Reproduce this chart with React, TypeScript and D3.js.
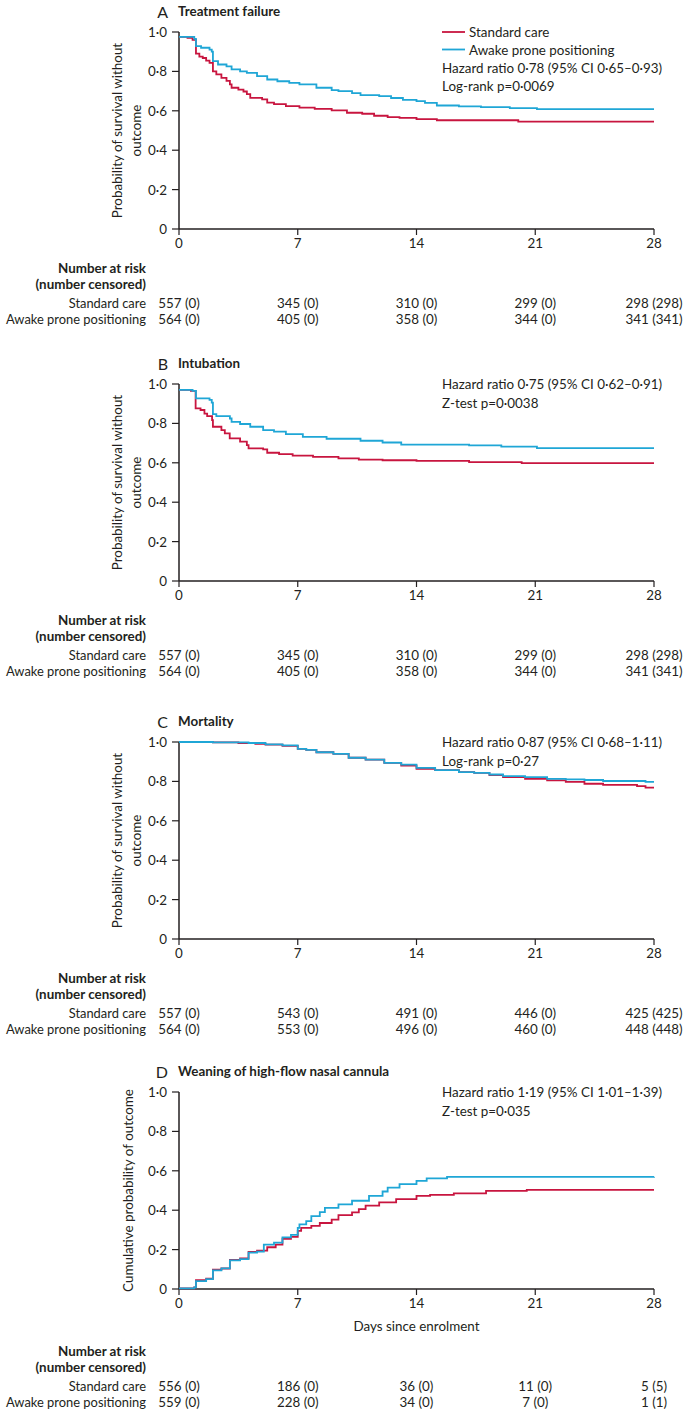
import React from "react";
import * as d3 from "d3";

type Pt = [number, number];

// ---------- data ----------
const dayTicks = [0, 7, 14, 21, 28];
const probTicks = [0, 0.2, 0.4, 0.6, 0.8, 1.0];
const groupNames = ["Standard care", "Awake prone positioning"];

const aStandard: Pt[] = [
  [0, 0.975], [0.5, 0.97], [0.8, 0.96], [1.0, 0.89], [1.2, 0.875], [1.4, 0.868], [1.6, 0.855],
  [1.8, 0.843], [2.0, 0.8], [2.2, 0.785], [2.5, 0.767], [2.8, 0.752], [3.0, 0.734], [3.1, 0.717],
  [3.5, 0.707], [3.8, 0.698], [4.0, 0.685], [4.2, 0.666], [4.9, 0.658], [5.2, 0.641], [5.6, 0.634],
  [6.3, 0.624], [7.1, 0.616], [8.0, 0.61], [9.0, 0.602], [9.9, 0.59], [10.8, 0.585], [11.5, 0.575],
  [12.3, 0.568], [13.0, 0.564], [14.0, 0.558], [15.2, 0.552], [20.0, 0.545], [28, 0.545],
];
const aProne: Pt[] = [
  [0, 0.975], [0.9, 0.965], [1.0, 0.928], [1.3, 0.92], [1.8, 0.911], [1.93, 0.9], [2.0, 0.852],
  [2.3, 0.835], [2.8, 0.826], [3.1, 0.81], [3.6, 0.8], [4.0, 0.793], [4.6, 0.776], [5.2, 0.759],
  [5.8, 0.75], [6.5, 0.742], [7.1, 0.734], [8.1, 0.717], [9.0, 0.705], [9.4, 0.7], [10.2, 0.69],
  [10.7, 0.68], [11.8, 0.675], [12.5, 0.665], [13.2, 0.655], [14.0, 0.649], [14.5, 0.64],
  [15.2, 0.627], [16.5, 0.622], [17.8, 0.619], [19.5, 0.614], [21.1, 0.608], [28, 0.608],
];
const bStandard: Pt[] = [
  [0, 0.97], [0.7, 0.965], [0.98, 0.876], [1.27, 0.868], [1.5, 0.85], [1.66, 0.837], [1.95, 0.817],
  [2.0, 0.783], [2.5, 0.766], [2.7, 0.749], [2.99, 0.724], [3.6, 0.707], [4.0, 0.69], [4.1, 0.673],
  [4.96, 0.668], [5.2, 0.651], [5.9, 0.644], [6.7, 0.636], [7.9, 0.63], [9.4, 0.622], [10.6, 0.616],
  [12.0, 0.613], [14.0, 0.61], [17.1, 0.603], [20.2, 0.598], [28, 0.598],
];
const bProne: Pt[] = [
  [0, 0.97], [0.8, 0.965], [1.0, 0.927], [1.8, 0.919], [1.93, 0.905], [2.0, 0.847], [2.2, 0.837],
  [3.0, 0.825], [3.1, 0.808], [3.6, 0.797], [4.2, 0.783], [4.96, 0.766], [5.6, 0.758], [6.3, 0.746],
  [7.3, 0.732], [8.7, 0.722], [10.7, 0.712], [12.0, 0.703], [13.1, 0.692], [17.1, 0.688],
  [19.0, 0.682], [21.1, 0.675], [28, 0.675],
];
const cStandard: Pt[] = [
  [0, 1.0], [2.0, 0.998], [3.5, 0.995], [4.5, 0.99], [5.1, 0.987], [6.1, 0.98], [7.0, 0.965],
  [7.5, 0.96], [8.1, 0.948], [9.1, 0.94], [10.0, 0.92], [11.0, 0.911], [12.1, 0.894], [13.1, 0.88],
  [14.0, 0.864], [15.1, 0.857], [16.5, 0.847], [17.4, 0.843], [18.3, 0.832], [19.1, 0.822],
  [20.4, 0.813], [21.7, 0.805], [22.8, 0.798], [23.9, 0.788], [25.0, 0.782], [27.0, 0.776],
  [27.5, 0.768], [28, 0.768],
];
const cProne: Pt[] = [
  [0, 1.0], [2.0, 0.998], [4.1, 0.995], [5.1, 0.988], [6.1, 0.983], [7.0, 0.965], [7.5, 0.96],
  [8.1, 0.948], [9.1, 0.94], [10.0, 0.92], [11.0, 0.911], [12.1, 0.894], [13.1, 0.885], [14.0, 0.869],
  [15.1, 0.857], [16.5, 0.847], [17.4, 0.843], [18.3, 0.835], [19.1, 0.827], [20.4, 0.822],
  [21.7, 0.813], [22.8, 0.81], [23.9, 0.807], [25.0, 0.802], [27.5, 0.798], [28, 0.798],
];
const dStandard: Pt[] = [
  [0, 0.003], [0.9, 0.008], [1.0, 0.045], [1.6, 0.052], [2.0, 0.098], [2.5, 0.104], [3.0, 0.148],
  [3.6, 0.155], [4.1, 0.188], [4.6, 0.195], [5.2, 0.212], [5.7, 0.225], [6.1, 0.255], [6.6, 0.265],
  [7.0, 0.295], [7.2, 0.31], [7.8, 0.32], [8.3, 0.335], [9.0, 0.352], [9.4, 0.375], [10.2, 0.389],
  [10.6, 0.405], [11.0, 0.423], [11.8, 0.44], [12.8, 0.456], [14.0, 0.473], [14.8, 0.478],
  [16.2, 0.485], [18.1, 0.498], [20.5, 0.503], [28, 0.503],
];
const dProne: Pt[] = [
  [0, 0.003], [0.9, 0.008], [1.0, 0.04], [1.6, 0.05], [2.0, 0.095], [2.5, 0.105], [3.0, 0.145],
  [3.6, 0.152], [4.1, 0.185], [4.6, 0.19], [5.0, 0.225], [5.6, 0.235], [6.1, 0.262], [6.6, 0.275],
  [7.0, 0.31], [7.1, 0.328], [7.5, 0.345], [7.8, 0.37], [8.3, 0.39], [8.6, 0.412], [9.4, 0.43],
  [10.2, 0.448], [11.2, 0.473], [12.0, 0.495], [12.3, 0.515], [13.0, 0.532], [14.0, 0.549],
  [14.6, 0.562], [15.8, 0.569], [28, 0.57],
];

const riskAStandard = ["557 (0)", "345 (0)", "310 (0)", "299 (0)", "298 (298)"];
const riskAProne = ["564 (0)", "405 (0)", "358 (0)", "344 (0)", "341 (341)"];
const riskCStandard = ["557 (0)", "543 (0)", "491 (0)", "446 (0)", "425 (425)"];
const riskCProne = ["564 (0)", "553 (0)", "496 (0)", "460 (0)", "448 (448)"];
const riskDStandard = ["556 (0)", "186 (0)", "36 (0)", "11 (0)", "5 (5)"];
const riskDProne = ["559 (0)", "228 (0)", "34 (0)", "7 (0)", "1 (1)"];

const panelLetters = ["A", "B", "C", "D"];
const panelTitles = ["Treatment failure", "Intubation", "Mortality", "Weaning of high-flow nasal cannula"];
const statsLines = [
  ["Hazard ratio 0·78 (95% CI 0·65–0·93)", "Log-rank p=0·0069"],
  ["Hazard ratio 0·75 (95% CI 0·62–0·91)", "Z-test p=0·0038"],
  ["Hazard ratio 0·87 (95% CI 0·68–1·11)", "Log-rank p=0·27"],
  ["Hazard ratio 1·19 (95% CI 1·01–1·39)", "Z-test p=0·035"],
];
const yLabelSurvival = ["Probability of survival without", "outcome"];
const yLabelCumulative = ["Cumulative probability of outcome"];
const xAxisLabel = "Days since enrolment";
const riskHeader = ["Number at risk", "(number censored)"];

// ---------- layout ----------
const W = 685;
const H = 1410;
const X0 = 179;
const X1 = 654;
const PLOT_H = 197;
const TOPS = [32, 384, 742, 1092];
const RED = "#c8153f";
const BLUE = "#1fa6d6";
const INK = "#231f20";
const FONT = "Lato, 'Open Sans', sans-serif";
const FS = 13.4;

const fmtProb = (v: number) => (v === 0 ? "0" : v.toFixed(1).replace(".", "·"));

type PanelDef = {
  idx: number;
  standard: Pt[];
  prone: Pt[];
  riskS: string[];
  riskP: string[];
  yLabel: string[];
  legend: boolean;
  xLabel: boolean;
};

const panels: PanelDef[] = [
  { idx: 0, standard: aStandard, prone: aProne, riskS: riskAStandard, riskP: riskAProne, yLabel: yLabelSurvival, legend: true, xLabel: false },
  { idx: 1, standard: bStandard, prone: bProne, riskS: riskAStandard, riskP: riskAProne, yLabel: yLabelSurvival, legend: false, xLabel: false },
  { idx: 2, standard: cStandard, prone: cProne, riskS: riskCStandard, riskP: riskCProne, yLabel: yLabelSurvival, legend: false, xLabel: false },
  { idx: 3, standard: dStandard, prone: dProne, riskS: riskDStandard, riskP: riskDProne, yLabel: yLabelCumulative, legend: false, xLabel: true },
];

const x = d3.scaleLinear().domain([0, 28]).range([X0, X1]);

function Panel({ p }: { p: PanelDef }) {
  const top = TOPS[p.idx];
  const y = d3.scaleLinear().domain([0, 1]).range([top + PLOT_H, top]);
  const y0 = y(0);
  const line = d3
    .line<Pt>()
    .x((d) => x(d[0]))
    .y((d) => y(d[1]))
    .curve(d3.curveStepAfter);
  const tableShift = p.xLabel ? 23 : 0;
  const rowGap = p.xLabel ? 15.5 : 16;
  const statsStart = p.legend ? 36 : 0;
  const statsGap = p.legend ? 17.5 : 18.5;
  const yMid = (top + y0) / 2;
  const yLabelXs = p.yLabel.length === 2 ? [117, 136] : [128];
  const titleY = top - 21;
  return (
    <g>
      {/* title */}
      <text x={168} y={titleY} textAnchor="end" dominantBaseline="central" fontSize={16} fill={INK}>
        {panelLetters[p.idx]}
      </text>
      <text x={178} y={titleY} dominantBaseline="central" fontSize={FS} fontWeight={700} fill={INK}>
        {panelTitles[p.idx]}
      </text>

      {/* y axis */}
      <line x1={X0} x2={X0} y1={top} y2={y0} stroke={INK} strokeWidth={1.5} />
      {probTicks.map((t) => (
        <g key={t}>
          <line x1={X0 - 7} x2={X0} y1={y(t)} y2={y(t)} stroke={INK} strokeWidth={1.2} />
          <text x={167} y={y(t)} textAnchor="end" dominantBaseline="central" fontSize={FS} fill={INK}>
            {fmtProb(t)}
          </text>
        </g>
      ))}
      {p.yLabel.map((s, i) => (
        <text
          key={s}
          transform={`translate(${yLabelXs[i]},${yMid}) rotate(-90)`}
          textAnchor="middle"
          dominantBaseline="central"
          fontSize={FS}
          fill={INK}
        >
          {s}
        </text>
      ))}

      {/* x axis */}
      <line x1={X0} x2={X1} y1={y0} y2={y0} stroke={INK} strokeWidth={1.5} />
      {dayTicks.map((t) => (
        <g key={t}>
          <line x1={x(t)} x2={x(t)} y1={y0} y2={y0 + 6} stroke={INK} strokeWidth={1.2} />
          <text x={x(t)} y={y0 + 14} textAnchor="middle" dominantBaseline="central" fontSize={FS} fill={INK}>
            {t}
          </text>
        </g>
      ))}
      {p.xLabel && (
        <text x={(X0 + X1) / 2} y={y0 + 37} textAnchor="middle" dominantBaseline="central" fontSize={FS} fill={INK}>
          {xAxisLabel}
        </text>
      )}

      {/* curves */}
      <path d={line(p.standard) || ""} fill="none" stroke={RED} strokeWidth={1.8} />
      <path d={line(p.prone) || ""} fill="none" stroke={BLUE} strokeWidth={1.8} />

      {/* legend */}
      {p.legend &&
        groupNames.map((g, i) => (
          <g key={g}>
            <line x1={442} x2={465} y1={top + i * 17.5} y2={top + i * 17.5} stroke={i === 0 ? RED : BLUE} strokeWidth={1.8} />
            <text x={469} y={top + i * 17.5} dominantBaseline="central" fontSize={FS} fill={INK}>
              {g}
            </text>
          </g>
        ))}
      {statsLines[p.idx].map((s, i) => (
        <text key={s} x={442} y={top + statsStart + i * statsGap} dominantBaseline="central" fontSize={FS} fill={INK}>
          {s}
        </text>
      ))}

      {/* risk table */}
      {riskHeader.map((s, i) => (
        <text
          key={s}
          x={146}
          y={y0 + 39 + tableShift + i * 16}
          textAnchor="end"
          dominantBaseline="central"
          fontSize={FS}
          fontWeight={700}
          fill={INK}
        >
          {s}
        </text>
      ))}
      {[p.riskS, p.riskP].map((row, r) => (
        <g key={r}>
          <text
            x={146}
            y={y0 + 39 + tableShift + 16 + 19 + r * rowGap}
            textAnchor="end"
            dominantBaseline="central"
            fontSize={12.9}
            fill={INK}
          >
            {groupNames[r]}
          </text>
          {row.map((v, i) => (
            <text
              key={i}
              x={x(dayTicks[i])}
              y={y0 + 39 + tableShift + 16 + 19 + r * rowGap}
              textAnchor="middle"
              dominantBaseline="central"
              fontSize={FS}
              fill={INK}
            >
              {v}
            </text>
          ))}
        </g>
      ))}
    </g>
  );
}

export default function App() {
  return (
    <svg
      width={W}
      height={H}
      viewBox={`0 0 ${W} ${H}`}
      style={{ position: "absolute", left: 0, top: 0, background: "#fff" }}
      fontFamily={FONT}
    >
      <rect width={W} height={H} fill="#fff" />
      {panels.map((p) => (
        <Panel key={p.idx} p={p} />
      ))}
    </svg>
  );
}
